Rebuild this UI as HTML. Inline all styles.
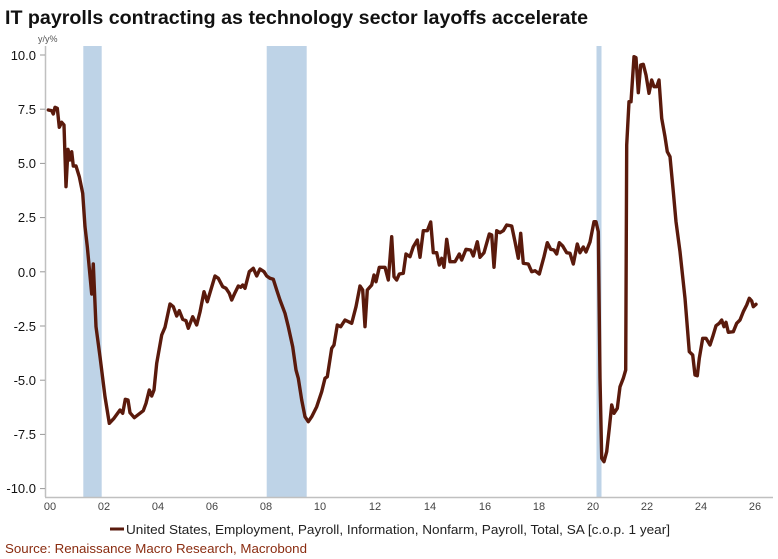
<!DOCTYPE html>
<html><head><meta charset="utf-8"><style>
html,body{margin:0;padding:0;background:#fff;}
svg{display:block;}
</style></head><body>
<svg width="778" height="559" viewBox="0 0 778 559" xmlns="http://www.w3.org/2000/svg" font-family="Liberation Sans, sans-serif">
<rect width="778" height="559" fill="#fff"/>
<text x="5" y="24" font-size="19" font-weight="bold" fill="#111" textLength="583" lengthAdjust="spacingAndGlyphs">IT payrolls contracting as technology sector layoffs accelerate</text>
<text x="38" y="42" font-size="9" fill="#555">y/y%</text>
<!-- recession shading -->
<g fill="#bed3e7">
<rect x="83.3" y="46" width="18.4" height="451"/>
<rect x="266.7" y="46" width="40" height="451"/>
<rect x="596.5" y="46" width="5" height="451"/>
</g>
<!-- axes -->
<line x1="45.5" y1="46" x2="45.5" y2="497" stroke="#c0c0c0" stroke-width="1.5"/>
<line x1="45" y1="497.5" x2="773" y2="497.5" stroke="#c0c0c0" stroke-width="1.5"/>
<g stroke="#999" stroke-width="1">
<line x1="40" y1="55" x2="45" y2="55"/>
<line x1="40" y1="109.2" x2="45" y2="109.2"/>
<line x1="40" y1="163.4" x2="45" y2="163.4"/>
<line x1="40" y1="217.6" x2="45" y2="217.6"/>
<line x1="40" y1="271.8" x2="45" y2="271.8"/>
<line x1="40" y1="326" x2="45" y2="326"/>
<line x1="40" y1="380.2" x2="45" y2="380.2"/>
<line x1="40" y1="434.4" x2="45" y2="434.4"/>
<line x1="40" y1="488.6" x2="45" y2="488.6"/>
</g>
<g font-size="13" fill="#111" text-anchor="end">
<text x="36" y="60">10.0</text>
<text x="36" y="114">7.5</text>
<text x="36" y="168">5.0</text>
<text x="36" y="222">2.5</text>
<text x="36" y="277">0.0</text>
<text x="36" y="331">-2.5</text>
<text x="36" y="385">-5.0</text>
<text x="36" y="439">-7.5</text>
<text x="36" y="493">-10.0</text>
</g>
<g font-size="11" fill="#444" text-anchor="middle">
<text x="50" y="510">00</text>
<text x="104" y="510">02</text>
<text x="158" y="510">04</text>
<text x="212" y="510">06</text>
<text x="266" y="510">08</text>
<text x="320" y="510">10</text>
<text x="375" y="510">12</text>
<text x="430" y="510">14</text>
<text x="485" y="510">16</text>
<text x="539" y="510">18</text>
<text x="593" y="510">20</text>
<text x="647" y="510">22</text>
<text x="701" y="510">24</text>
<text x="755" y="510">26</text>
</g>
<polyline fill="none" stroke="#5a1a0c" stroke-width="3.4" stroke-linejoin="round" stroke-linecap="round" points="
48.3,110 51.7,110.7 53.3,114 55,107.3 57.3,108.3 59.3,127.3 61.7,122.3 64,125 66,186.7 68,149.3 70,160 71.7,151.7 73.3,166 76,166 79.3,176.7 82.7,193.3 85,226.7 87.3,246.7 91.7,294 93.3,264 96,326.7 100,356.7 105,396.7 109.3,423.3 114,418.3 120,410 122.7,413.3 125.3,399.3 128,400 130,412.7 134.3,417.7 143.3,410.7 146,403.3 149.3,390 151.7,396 154,390 156.7,363.3 161.7,335 165,327.3 170,304 173.3,306.7 176.7,316 179.3,310.7 182.7,319.3 186,320.7 188.3,328.3 192.7,316.7 196.7,325 200,312 204,291.7 207.3,301.7 215,276 218.3,278.3 222.7,286.7 226,288.3 229.3,293.3 231.7,300 235,292.7 238.3,286 240.7,287.3 242.7,285 245,288.3 249.3,271.7 253.3,268.3 256.7,276 260,269 264,271.7 266.7,276 270,278.3 273.3,279.3 276.7,290 280,300 285,313.3 288.3,326.7 292.7,346.7 296,370 298.3,378.3 301.7,400 305,416.7 308.3,421.7 311.7,416.7 316.7,406.7 321.7,391.7 325,378.3 327.3,376.7 331.7,348.3 334,345 337.3,325 340.7,326.7 345,320 351.7,323.3 356,306.7 360,286 362.7,290 365,326.7 367.3,290 371.7,285 374,275 376,281.7 379.3,267.3 385,267.3 388.3,280 391.7,236.7 394,276.7 396.7,280 399.3,274 403.3,273.3 406,254 410,256.7 413.3,246.7 417.3,240 420,257.3 423.3,230.7 427.3,230.7 430.7,222 433.3,252.7 436.7,252.7 439.3,265 441.7,258.3 444,267.3 446.7,239.3 450,261.7 455,261.7 459.3,254 461.7,260 466,249.3 470.7,250 473.3,256 477.3,241.7 480,257.3 484,252.7 489.3,234 491.7,235 494,267.3 496.7,230.7 500,232.7 503.3,230.7 506.7,225 511.7,226 515,241.7 518.3,258.3 520.7,233.3 523.3,263.3 528.3,264 531.7,271.7 535,270.7 539.3,274 544,256.7 547.3,242.7 550.7,249.3 554,250 556.7,254 559.3,242.7 562.7,246 566.7,252.7 570,253.3 573.3,264 577.3,244 580,252.7 583.3,247 586,252 590,242 594,221.7 596,221.7 598.3,231.7 600,378.3 601.7,458.3 604,461.7 606.7,451.7 609.3,428.3 611.7,405 614,413.3 617.3,408.3 620,386.7 623.3,378.3 625.7,370 626.7,145 629,101.7 631,101.7 634,56.7 636,57.7 638.3,92.7 640.7,65 643.3,64.3 646,75 649,93.3 651.7,80 654,86.7 656.7,86.7 659,80 661.7,118.3 665,136.7 667.3,151.7 670,156.7 673.3,191.7 676,221.7 680,251.7 685,298.3 689.3,351.7 692.7,355 695,375 697.3,375.7 699.3,358.3 702.7,338.3 706,338.3 710,345 712.7,336.7 716,325.7 719.3,323.3 721.7,320 724,326.7 726,322.3 728.3,332.3 733.3,331.7 736.7,323.3 740,320 743.3,311.7 746.7,305 749.3,298.3 751.7,301 753.3,306.7 756,304.3"/>
<!-- legend -->
<line x1="110" y1="529" x2="124" y2="529" stroke="#5a1a0c" stroke-width="3"/>
<text x="126" y="534" font-size="13" fill="#222" textLength="544" lengthAdjust="spacingAndGlyphs">United States, Employment, Payroll, Information, Nonfarm, Payroll, Total, SA [c.o.p. 1 year]</text>
<text x="5" y="553" font-size="13" fill="#8a2c10" textLength="302" lengthAdjust="spacingAndGlyphs">Source: Renaissance Macro Research, Macrobond</text>
</svg>
</body></html>
